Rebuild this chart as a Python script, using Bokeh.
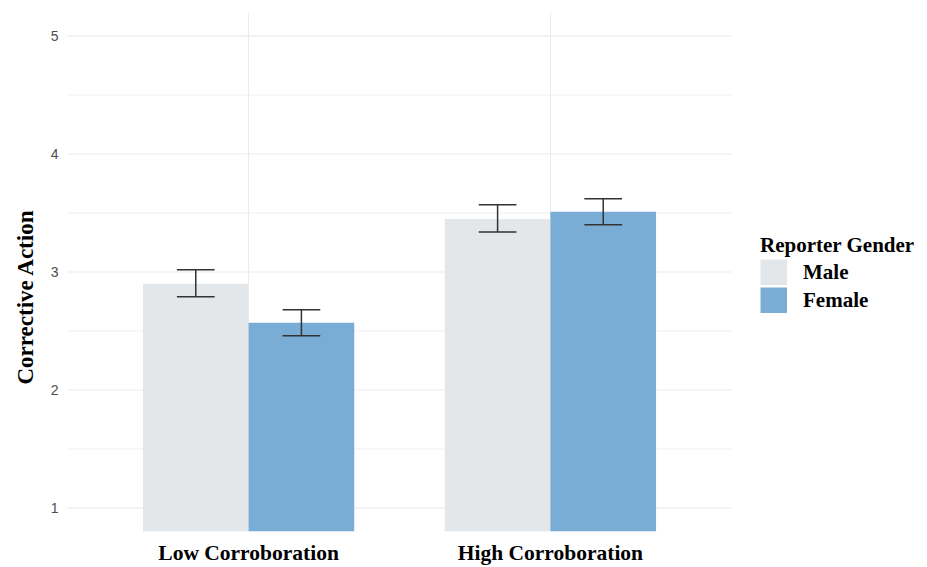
from bokeh.plotting import figure
from bokeh.models import (ColumnDataSource, Range1d, FixedTicker, Legend, LegendItem, Title)
from bokeh.transform import dodge
from bokeh.embed import file_html
from bokeh.resources import INLINE

# Mean corrective action by corroboration level and reporter gender
conditions = ["Low Corroboration", "High Corroboration"]
genders = ["Male", "Female"]
male_mean = [2.90, 3.45]
female_mean = [2.57, 3.51]
male_lower = [2.79, 3.34]
male_upper = [3.02, 3.57]
female_lower = [2.46, 3.40]
female_upper = [2.68, 3.62]

y_ticks = [1, 2, 3, 4, 5]
y_minor = [1.5, 2.5, 3.5, 4.5]

MALE_COLOR = "#E4E7EA"
FEMALE_COLOR = "#7AADD5"
ERR_COLOR = "#333333"
GRID_COLOR = "#EBEBEB"
SERIF = "Liberation Serif"

bar_w = 0.35
cap_w = 0.125

# panel spans 0.4..2.6 in category units; the frame continues to the right
# edge so the legend can sit beside the panel
W, H = 927, 567
LEFT, PANEL_RIGHT = 67, 731
X_LO, X_HI = 0.4, 2.6
px_per_unit = (PANEL_RIGHT - LEFT) / (X_HI - X_LO)
x_end = X_LO + (W - LEFT) / px_per_unit

x_pos = [i + 1 for i in range(len(conditions))]

p = figure(width=W, height=H, output_backend="svg", toolbar_location=None,
           x_range=Range1d(X_LO, x_end), y_range=Range1d(0.8, 5.2),
           min_border_left=LEFT, min_border_right=0,
           min_border_top=12, min_border_bottom=36)
p.outline_line_color = None
p.background_fill_color = "white"
p.border_fill_color = "white"

# grid: vertical lines from the axis grid, horizontal ones limited to the panel
p.xgrid.ticker = FixedTicker(ticks=x_pos)
p.xgrid.grid_line_color = GRID_COLOR
p.xgrid.grid_line_width = 1.1
p.ygrid.visible = False
p.segment(x0=[X_LO] * len(y_ticks), x1=[X_HI] * len(y_ticks), y0=y_ticks, y1=y_ticks,
          line_color=GRID_COLOR, line_width=1.1)
p.segment(x0=[X_LO] * len(y_minor), x1=[X_HI] * len(y_minor), y0=y_minor, y1=y_minor,
          line_color=GRID_COLOR, line_width=0.8)

# axes
p.xaxis.ticker = FixedTicker(ticks=x_pos)
p.xaxis.major_label_overrides = {x: c for x, c in zip(x_pos, conditions)}
p.yaxis.ticker = FixedTicker(ticks=y_ticks)
for ax in (p.xaxis[0], p.yaxis[0]):
    ax.axis_line_color = None
    ax.major_tick_line_color = None
    ax.minor_tick_line_color = None
    ax.major_tick_out = 0
    ax.major_tick_in = 0
    ax.minor_tick_out = 0
    ax.minor_tick_in = 0

p.xaxis.major_label_text_font = SERIF
p.xaxis.major_label_text_font_style = "bold"
p.xaxis.major_label_text_font_size = "21.5px"
p.xaxis.major_label_text_color = "black"
p.xaxis.major_label_standoff = 9

p.yaxis.major_label_text_font = "Liberation Sans"
p.yaxis.major_label_text_font_size = "14px"
p.yaxis.major_label_text_color = "#4D4D4D"
p.yaxis.major_label_standoff = 9

# y axis title, set in its own side panel so it can be nudged along the axis
y_title = Title(text="Corrective Action", align="left", offset=147, standoff=19,
                text_font=SERIF, text_font_style="bold", text_font_size="23px",
                text_color="black")
p.add_layout(y_title, "left")

src = ColumnDataSource(dict(
    x=x_pos, male=male_mean, female=female_mean,
    m_lo=male_lower, m_hi=male_upper, f_lo=female_lower, f_hi=female_upper,
))

off = bar_w / 2
p.vbar(x=dodge("x", -off, range=p.x_range), top="male", bottom=0,
       width=bar_w, source=src, fill_color=MALE_COLOR, line_color=None)
p.vbar(x=dodge("x", off, range=p.x_range), top="female", bottom=0,
       width=bar_w, source=src, fill_color=FEMALE_COLOR, line_color=None)

# error bars
for shift, lo, hi in ((-off, "m_lo", "m_hi"), (off, "f_lo", "f_hi")):
    xc = dodge("x", shift, range=p.x_range)
    xl = dodge("x", shift - cap_w / 2, range=p.x_range)
    xr = dodge("x", shift + cap_w / 2, range=p.x_range)
    p.segment(x0=xc, y0=lo, x1=xc, y1=hi, source=src,
              line_color=ERR_COLOR, line_width=1.5)
    p.segment(x0=xl, y0=lo, x1=xr, y1=lo, source=src,
              line_color=ERR_COLOR, line_width=1.5)
    p.segment(x0=xl, y0=hi, x1=xr, y1=hi, source=src,
              line_color=ERR_COLOR, line_width=1.5)

# legend keys: thick butt-capped strokes give solid swatches filling the key box
KEY_H = 26
key_male = p.line(x="x", y="male", source=src, line_color=MALE_COLOR,
                  line_width=KEY_H, line_cap="butt", visible=False)
key_female = p.line(x="x", y="female", source=src, line_color=FEMALE_COLOR,
                    line_width=KEY_H, line_cap="butt", visible=False)

legend = Legend(items=[LegendItem(label=genders[0], renderers=[key_male]),
                       LegendItem(label=genders[1], renderers=[key_female])],
                location=(693, 218))
legend.title = "Reporter Gender"
legend.title_text_font = SERIF
legend.title_text_font_style = "bold"
legend.title_text_font_size = "21px"
legend.title_standoff = 1
legend.label_text_font = SERIF
legend.label_text_font_style = "bold"
legend.label_text_font_size = "21px"
legend.label_text_color = "black"
legend.title_text_color = "black"
legend.glyph_width = 27
legend.glyph_height = KEY_H
legend.label_height = KEY_H
legend.label_standoff = 16
legend.spacing = 2
legend.padding = 0
legend.margin = 0
legend.border_line_color = None
legend.background_fill_alpha = 0
p.add_layout(legend, "center")

open("out.html", "w").write(file_html(p, INLINE))
